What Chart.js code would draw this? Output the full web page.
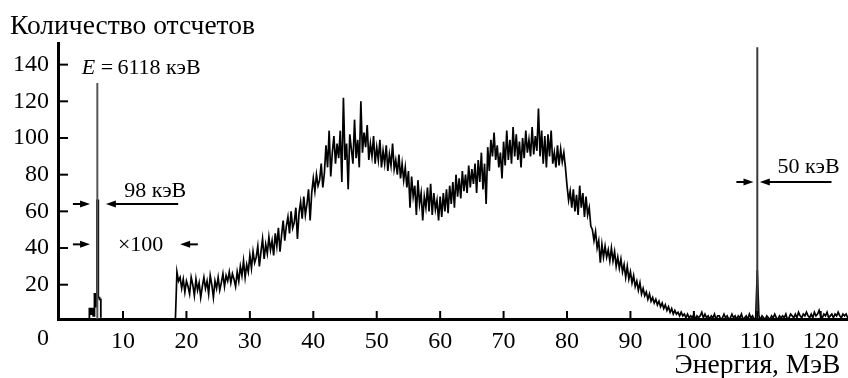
<!DOCTYPE html>
<html>
<head>
<meta charset="utf-8">
<script src="https://cdn.jsdelivr.net/npm/chart.js@4.4.1/dist/chart.umd.min.js"></script>
<style>
  html, body { margin: 0; padding: 0; background: #fff; }
  canvas { display: block; }
</style>
</head>
<body>
<canvas id="spectre" width="848" height="378"></canvas>
<script>
// Graduations des axes
const xTicks = [0, 10, 20, 30, 40, 50, 60, 70, 80, 90, 100, 110, 120];
const yTicks = [20, 40, 60, 80, 100, 120, 140];

// Spectre principal (x100), canaux de 0.25 MeV à partir de 18.25 MeV
const spectrumStart = 18.25;
const spectrumStep = 0.25;
const spectrumCounts = [
    0, 27, 22,
    24, 18, 23, 16,   22, 19, 15, 24,   20, 14, 23, 17,   21, 13, 19, 24,   18, 22, 15, 25,   // 19-23
    20, 13, 22, 18,   24, 17, 21, 26,   19, 25, 22, 27,   21, 26, 23, 19,   27, 22, 30, 25,   // 24-28
    33, 24, 31, 27,   36, 29, 38, 32,   35, 41, 30, 38,   45, 34, 42, 37,   46, 39, 44, 36,   // 29-33
    48, 41, 51, 38,   47, 55, 44, 52,   57, 48, 60, 51,   54, 62, 45, 59,   65, 56, 68, 58,   // 34-38
    64, 72, 55, 70,   78, 71, 80, 74,   77, 86, 73, 81,   96, 84, 104, 79,  92, 101, 86, 97,  // 39-43
    89, 104, 76, 122, 88, 97, 72, 102,  94, 86, 110, 89,  99, 84, 120, 92,  103, 95, 107, 88, // 44-48
    97, 90, 101, 86,  95, 88, 99, 84,   93, 86, 96, 82,   91, 85, 97, 83,   88, 80, 91, 78,   // 49-53
    86, 77, 84, 73,   82, 62, 79, 68,   74, 58, 77, 64,   70, 55, 68, 62,   73, 60, 75, 58,   // 54-58
    70, 61, 66, 55,   68, 57, 70, 60,   72, 59, 74, 64,   76, 62, 80, 68,   78, 67, 82, 71,   // 59-63
    80, 70, 85, 73,   83, 75, 86, 70,   88, 76, 92, 72,   86, 64, 95, 82,   99, 90, 103, 88,  // 64-68
    96, 84, 92, 78,   98, 85, 104, 88,  99, 86, 106, 90,  102, 88, 98, 84,  100, 89, 104, 92, // 69-73
    99, 90, 106, 91,  101, 93, 116, 90, 104, 86, 101, 84, 102, 90, 104, 86, 92, 84, 96, 85,   // 74-78
    94, 87, 92, 84,   74, 66, 71, 62,   72, 60, 69, 58,   74, 62, 70, 57,   68, 58, 62, 52,   // 79-83
    50, 44, 49, 40,   44, 32, 42, 35,   41, 35, 39, 33,   40, 33, 38, 30,   35, 29, 34, 27,   // 84-88
    31, 24, 30, 23,   27, 21, 25, 19,   22, 17, 21, 15,   18, 14, 16, 12,   15, 11, 13, 10,   // 89-93
    12, 9, 11, 8,     10, 7, 9, 6,      8, 5, 7, 4,       6, 4, 5, 3,       5, 3, 4, 2,       // 94-98
    4, 2, 3, 2,       4, 1, 3, 2,       3, 5, 2, 4,       2, 3, 1, 3,       2, 4, 1, 3,       // 99-103
    3, 1, 2, 4,       2, 3, 1, 2,       4, 2, 3, 1,       3, 2, 4, 1,       2, 3, 1, 4,       // 104-108
    2, 3, 1, 2,       28, 3, 1, 3,      2, 1, 3, 2,       1, 3, 2, 4,       2, 1, 3, 2,       // 109-113
    3, 2, 4, 1,       2, 4, 3, 2,       4, 2, 5, 3,       2, 4, 3, 5,       3, 2, 4, 2,       // 114-118
    5, 3, 4, 6,       3, 2, 4, 3,       5, 2, 3, 4,       2, 4, 3, 5,       3, 2, 4, 3,       // 119-123
    4, 2, 3
];

// Pic E = 6118 keV (sans facteur)
const peakEnergies = [4.5, 4.7, 4.9, 5.1, 5.3, 5.5, 5.7, 5.9, 6.1, 6.3, 6.5];
const peakCounts = [0, 7, 4, 7, 3, 15, 8, 66, 13, 12, 2];
const peakTop = { energy: 5.95, count: 130 };

// Raie fine à 110 MeV
const lineTop = { energy: 110.0, count: 149.5 };

const serif = '"Liberation Serif", "Times New Roman", serif';

const spectrumPoints = spectrumCounts.map((c, i) => ({ x: spectrumStart + i * spectrumStep, y: c }));
const peakPoints = peakEnergies.map((e, i) => ({ x: e, y: peakCounts[i] }));

function arrow(ctx, x1, x2, py) {
    // flèche de x1 vers x2 (pointe en x2)
    const dir = Math.sign(x2 - x1);
    ctx.beginPath();
    ctx.moveTo(x1, py);
    ctx.lineTo(x2 - dir * 6, py);
    ctx.stroke();
    ctx.beginPath();
    ctx.moveTo(x2, py);
    ctx.lineTo(x2 - dir * 10, py - 3.5);
    ctx.lineTo(x2 - dir * 10, py + 3.5);
    ctx.closePath();
    ctx.fill();
}

const decor = {
    id: 'decor',
    afterDraw(chart) {
        const { ctx, scales: { x, y } } = chart;
        const px = v => x.getPixelForValue(v);
        const py = v => y.getPixelForValue(v);
        ctx.save();
        ctx.strokeStyle = '#000';
        ctx.fillStyle = '#000';

        // graduations vers l'intérieur
        ctx.lineWidth = 2;
        yTicks.forEach(v => {
            ctx.beginPath();
            ctx.moveTo(x.left, py(v));
            ctx.lineTo(x.left + 10, py(v));
            ctx.stroke();
        });
        xTicks.filter(v => v > 0).forEach(v => {
            ctx.beginPath();
            ctx.moveTo(px(v), y.bottom);
            ctx.lineTo(px(v), y.bottom - 8);
            ctx.stroke();
        });

        // titres des axes
        ctx.font = '27.5px ' + serif;
        ctx.textBaseline = 'middle';
        ctx.textAlign = 'left';
        ctx.fillText('Количество отсчетов', 10, 27);
        ctx.textAlign = 'right';
        ctx.fillText('Энергия, МэВ', px(123.1), 366);
        ctx.font = '24px ' + serif;
        ctx.textAlign = 'center';
        ctx.fillText('0', 43, 339);

        // annotations
        ctx.font = 'italic 22px ' + serif;
        ctx.textAlign = 'left';
        ctx.fillText('E', px(3.5), py(138));
        const wE = ctx.measureText('E').width;
        ctx.font = '22px ' + serif;
        ctx.fillText('\u2009=\u20096118 кэВ', px(3.5) + wE + 1, py(138));
        ctx.fillText('98 кэВ', px(10.2), py(71));
        ctx.fillText('×100', px(9.2), py(41.5));
        ctx.fillText('50 кэВ', px(113.2), py(84));

        ctx.lineWidth = 2;
        arrow(ctx, px(2.1), px(4.8), py(64));
        arrow(ctx, px(18.7), px(7.3), py(64));
        arrow(ctx, px(2.1), px(4.8), py(42));
        arrow(ctx, px(21.8), px(19.0), py(42));
        arrow(ctx, px(106.7), px(109.4), py(76));
        arrow(ctx, px(121.7), px(110.4), py(76));
        ctx.restore();
    }
};

new Chart(document.getElementById('spectre'), {
    type: 'line',
    data: {
        datasets: [
            {
                data: [{ x: peakTop.energy, y: 0 }, { x: peakTop.energy, y: peakTop.count }],
                borderColor: '#555',
                borderWidth: 2
            },
            {
                data: [{ x: lineTop.energy, y: 0 }, { x: lineTop.energy, y: lineTop.count }],
                borderColor: '#3a3a3a',
                borderWidth: 2
            },
            {
                data: peakPoints,
                borderColor: '#000',
                borderWidth: 1.8,
                stepped: true
            },
            {
                data: spectrumPoints,
                borderColor: '#000',
                borderWidth: 1.7
            }
        ]
    },
    options: {
        responsive: false,
        animation: false,
        events: [],
        layout: { padding: { top: 43, right: 0, left: 0, bottom: 0 } },
        elements: { point: { radius: 0 }, line: { tension: 0 } },
        plugins: { legend: { display: false }, tooltip: { enabled: false } },
        scales: {
            x: {
                type: 'linear',
                min: -0.25,
                max: 124.3,
                afterBuildTicks: axis => { axis.ticks = xTicks.map(v => ({ value: v })); },
                afterFit: axis => { axis.height = 59; },
                grid: { display: false, drawTicks: false },
                border: { display: true, color: '#000', width: 3 },
                ticks: {
                    autoSkip: false,
                    maxRotation: 0,
                    padding: 8,
                    color: '#000',
                    font: { family: serif, size: 24 },
                    callback: v => (v === 0 ? '' : v)
                }
            },
            y: {
                type: 'linear',
                min: 1.3,
                max: 151.8,
                afterBuildTicks: axis => { axis.ticks = yTicks.map(v => ({ value: v })); },
                afterFit: axis => { axis.width = 58; },
                grid: { display: false, drawTicks: false },
                border: { display: true, color: '#000', width: 3 },
                ticks: {
                    padding: 9,
                    color: '#000',
                    font: { family: serif, size: 24 }
                }
            }
        }
    },
    plugins: [decor]
});
</script>
</body>
</html>
